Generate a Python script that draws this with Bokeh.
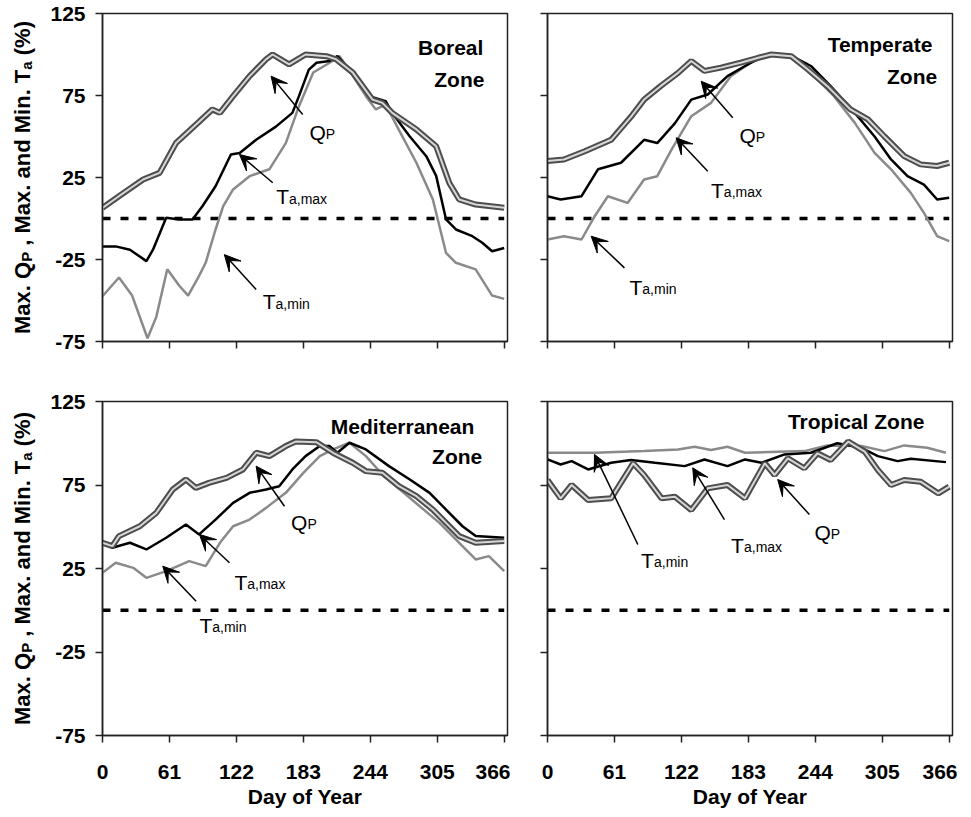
import math
from bokeh.plotting import figure
from bokeh.layouts import column, row
from bokeh.models import Range1d, FixedTicker, Label, Arrow, VeeHead
from bokeh.embed import file_html
from bokeh.resources import INLINE

DAY_TICKS = [0, 61, 122, 183, 244, 305, 366]
Y_TICKS = [-75, -25, 25, 75, 125]
Y_TICK_TEXT = ["-75", "-25", "25", "75", "125"]
X_LABEL = "Day of Year"

# ---------------- Boreal Zone ----------------
bor_qp_day = [0, 15, 37, 52, 67, 88, 100, 107, 119, 134, 149, 155, 170, 185, 204, 213, 228, 246, 255, 264, 286, 304, 316, 325, 340, 366]
bor_qp = [6.5, 13.6, 23.8, 27.8, 46, 59, 66.5, 64.4, 74.6, 86.8, 97, 100, 94, 100, 99, 97, 89, 72.5, 70.5, 64.4, 54.3, 44, 21.7, 11.6, 8.5, 6.5]
bor_tmax_day = [0, 12, 25, 40, 46, 58, 70, 82, 91, 103, 117, 125, 140, 158, 173, 179, 188, 195, 207, 214, 228, 243, 258, 264, 280, 295, 304, 313, 322, 337, 346, 355, 366]
bor_tmax = [-17, -17, -19, -26, -19, 0.4, -0.6, -0.6, 7.5, 19.7, 39, 40, 48, 56, 64.4, 74.6, 90.8, 95, 96, 99, 89, 74.6, 71.5, 64.4, 50, 38, 26, -0.6, -6.7, -10.8, -14.8, -20, -18]
bor_tmin_day = [0, 15, 27, 41, 49, 59, 70, 78, 88, 94, 103, 110, 119, 134, 152, 167, 179, 192, 207, 216, 228, 240, 249, 258, 270, 286, 301, 313, 322, 340, 355, 366]
bor_tmin = [-47.4, -36, -47, -73, -60, -31, -41, -47, -35, -27, -6.7, 7.5, 17.7, 25.8, 30, 46, 68.5, 89, 95, 99, 87, 74.6, 66.5, 69.5, 54, 34, 11.6, -21, -27, -31, -47, -49]

# ---------------- Temperate Zone ----------------
tem_qp_day = [0, 15, 34, 58, 76, 88, 103, 119, 131, 143, 158, 176, 192, 204, 222, 237, 255, 276, 292, 307, 325, 340, 355, 366]
tem_qp = [35, 36, 41, 48, 62, 72.5, 80.7, 88.8, 96, 90, 92, 95, 98, 100, 99, 91, 80.7, 66.5, 60.4, 50, 38, 33, 32, 34]
tem_tmax_day = [0, 12, 31, 46, 67, 88, 100, 116, 131, 146, 164, 180, 198, 222, 240, 258, 280, 298, 313, 328, 343, 355, 366]
tem_tmax = [13.6, 11.6, 13.6, 30, 34, 48, 46, 58, 72.5, 75.6, 86.8, 93, 99.4, 99.4, 93, 80.7, 64.4, 50, 36, 25.8, 20.7, 11.6, 12.6]
tem_tmin_day = [0, 15, 31, 43, 55, 73, 88, 100, 113, 131, 149, 167, 185, 204, 222, 240, 261, 280, 298, 313, 331, 343, 355, 366]
tem_tmin = [-12.8, -10.8, -12.8, 1.4, 13.6, 9.5, 23.8, 25.8, 42, 62.4, 70.5, 86.8, 95, 100, 99, 88.8, 74.6, 58.3, 40, 30, 15.6, 3.4, -10.8, -13.8]

# ---------------- Mediterranean Zone ----------------
med_qp_day = [0, 9, 15, 34, 49, 64, 76, 85, 97, 113, 128, 140, 152, 167, 176, 195, 210, 228, 240, 255, 270, 286, 301, 313, 325, 340, 366]
med_qp = [40.4, 38.4, 44.4, 50.3, 58.3, 72.3, 78.3, 73.3, 76.3, 79.3, 84.3, 94.3, 92.3, 98.3, 101, 100.6, 94.3, 88.3, 83.3, 82.3, 74.3, 68.3, 60.3, 52.3, 44.4, 40.4, 41.4]
med_tmax_day = [0, 9, 25, 40, 58, 76, 88, 103, 119, 134, 149, 161, 173, 185, 198, 207, 214, 225, 240, 261, 280, 298, 313, 328, 340, 366]
med_tmax = [41.4, 37.4, 40.4, 36.4, 43.4, 51.3, 45.4, 54.3, 64.3, 70.3, 72.3, 74.3, 84.3, 92.3, 98.3, 98.3, 94.3, 100.3, 96.3, 86.3, 78.3, 70.3, 60.3, 50.3, 44.4, 43.4]
med_tmin_day = [0, 12, 28, 40, 58, 79, 94, 107, 119, 134, 149, 167, 183, 198, 210, 225, 240, 255, 271, 289, 307, 325, 340, 352, 366]
med_tmin = [22.4, 28.4, 25.4, 19.4, 23.4, 29.4, 26.4, 40.4, 50.3, 54.3, 61.3, 70.3, 82.3, 92.3, 96.3, 100.3, 92.3, 81.3, 72.3, 62.3, 52.3, 40.4, 30.4, 32.4, 23.4]

# ---------------- Tropical Zone ----------------
tro_qp_day = [0, 12, 22, 37, 58, 78, 88, 104, 116, 131, 146, 164, 180, 198, 207, 219, 234, 246, 258, 274, 289, 301, 313, 325, 340, 356, 366]
tro_qp = [78, 67, 75, 66, 67, 88, 81, 67, 68, 60, 73, 75, 67, 88, 81, 91, 85, 94, 90, 101, 95, 84, 75, 78, 77, 70, 74]
tro_tmax_day = [0, 12, 22, 37, 58, 76, 98, 125, 143, 164, 180, 195, 216, 240, 264, 286, 301, 319, 331, 363]
tro_tmax = [90.3, 87.3, 89.3, 84.3, 88.3, 90, 88.3, 86.3, 90.3, 86.3, 90.3, 88.3, 93.3, 94.3, 100, 97.3, 92.3, 89.3, 90.7, 88.7]
tro_tmin_day = [0, 43, 88, 119, 134, 149, 164, 180, 210, 234, 255, 286, 307, 325, 346, 363]
tro_tmin = [94.3, 94.3, 95.3, 96.3, 97.9, 95.9, 97.9, 94.3, 94.9, 95.3, 98.7, 98.3, 95.3, 98.7, 97.3, 94.3]

FONT = "Liberation Sans"


def make_panel(width, height, bl, br, bt, bb, show_x, show_y):
    p = figure(width=width, height=height, output_backend="svg", toolbar_location=None,
               x_range=Range1d(0, 369), y_range=Range1d(-75, 125),
               min_border_left=bl, min_border_right=br, min_border_top=bt, min_border_bottom=bb)
    p.xgrid.visible = False
    p.ygrid.visible = False
    p.outline_line_color = "#222222"
    p.outline_line_width = 1.5
    for ax, ticks, show in ((p.xaxis[0], DAY_TICKS, show_x), (p.yaxis[0], Y_TICKS, show_y)):
        ax.ticker = FixedTicker(ticks=ticks)
        ax.minor_tick_line_color = None
        ax.major_tick_in = 0
        ax.major_tick_out = 7
        ax.major_tick_line_width = 1.5
        ax.major_tick_line_color = "#222222"
        ax.axis_line_width = 1.5
        ax.axis_line_color = "#222222"
        ax.major_label_text_font = FONT
        ax.major_label_text_font_style = "bold"
        ax.major_label_text_font_size = "21px"
        ax.major_label_text_color = "black"
        if not show:
            # ticks only: blank, tiny labels so that they take no room
            ax.major_label_overrides = {t: " " for t in ticks}
            ax.major_label_text_font_size = "1px"
            ax.major_label_standoff = 0
    if show_y:
        p.yaxis[0].major_label_overrides = dict(zip(Y_TICKS, Y_TICK_TEXT))
        p.yaxis[0].major_label_standoff = 10
    if show_x:
        p.xaxis[0].major_label_standoff = 22
        p.xaxis[0].axis_label = X_LABEL
        p.xaxis[0].axis_label_text_font = FONT
        p.xaxis[0].axis_label_text_font_style = "bold"
        p.xaxis[0].axis_label_text_font_size = "21px"
        p.xaxis[0].axis_label_text_color = "black"
        p.xaxis[0].axis_label_standoff = 3
    return p


def draw_series(p, qd, qv, xd, xv, nd, nv):
    p.line([0, 366], [0, 0], line_color="black", line_width=3.5, line_dash="8 10")
    p.line(nd, nv, line_color="#8a8a8a", line_width=2.5)
    p.line(xd, xv, line_color="black", line_width=2.5)
    p.line(qd, qv, line_color="#4d4d4d", line_width=6)
    p.line(qd, qv, line_color="#d6d6d6", line_width=2)


def add_zone_title(p, lines):
    for txt, d, v in lines:
        p.add_layout(Label(x=d, y=v, text=txt, text_align="right", text_baseline="middle",
                           text_font=FONT, text_font_style="bold", text_font_size="21px",
                           text_color="black"))


def add_note(p, main, sub, main_w, lx, ly, ax0, ay0, ax1, ay1):
    p.add_layout(Arrow(x_start=ax0, y_start=ay0, x_end=ax1, y_end=ay1,
                       line_color="black", line_width=1.5,
                       end=VeeHead(size=16, fill_color="black", line_color="black")))
    p.add_layout(Label(x=lx, y=ly, text=main, text_font=FONT, text_font_size="21px",
                       text_baseline="alphabetic", text_align="left", y_offset=-7.5, text_color="black"))
    p.add_layout(Label(x=lx, y=ly, text=sub, text_font=FONT, text_font_size="14px",
                       text_baseline="alphabetic", text_align="left", x_offset=main_w * 21,
                       y_offset=-9.5, text_color="black"))


def make_ylabel_fig(width, height, bt, bb, frame_h):
    """Narrow figure holding the rotated y-axis title (with subscripts).
    Its frame has the same vertical extent as the neighbouring panel's frame."""
    p = figure(width=width, height=height, output_backend="svg", toolbar_location=None,
               x_range=Range1d(0, width), y_range=Range1d(0, frame_h),
               x_axis_location=None, y_axis_location=None,
               min_border_left=0, min_border_right=0, min_border_top=bt, min_border_bottom=bb)
    p.xgrid.visible = False
    p.ygrid.visible = False
    p.outline_line_color = None
    big, small = 22, 15
    base_x = 30.0
    mid_big = base_x - 0.3465 * big
    mid_small = base_x + 1 - 0.3465 * small
    pieces = [("Max. Q", big, 3.279), ("P", small, 0.667), (None, big, 0.278),
              (", Max. and Min. T", big, 8.002), ("a", small, 0.556), (None, big, 0.278),
              ("(%)", big, 1.555)]
    total = sum(s * w for _, s, w in pieces)
    y = (frame_h - total) / 2
    for txt, s, w in pieces:
        L = s * w
        if txt is not None:
            p.add_layout(Label(x=mid_big if s == big else mid_small, y=y + L / 2, text=txt,
                               angle=math.pi / 2, text_font=FONT, text_font_style="bold",
                               text_font_size=f"{s}px", text_align="center",
                               text_baseline="middle", text_color="black"))
        y += L
    return p


TOP_FRAME, BOT_FRAME = 328, 334
YL_W = 45
LB, TB, BB = 102 - YL_W, 13, 80
TOP_H = TB + TOP_FRAME + 30
BOT_H = 30 + BOT_FRAME + BB

tl = make_panel(LB + 405 + 3, TOP_H, LB, 3, TB, 30, False, True)
tr = make_panel(447, TOP_H, 37, 5, TB, 30, False, False)
bl = make_panel(LB + 405 + 3, BOT_H, LB, 3, 30, BB, True, True)
br = make_panel(447, BOT_H, 37, 5, 30, BB, True, False)

yl_top = make_ylabel_fig(YL_W, TOP_H, TB, 30, TOP_FRAME)
yl_bot = make_ylabel_fig(YL_W, BOT_H, 30, BB, BOT_FRAME)

draw_series(tl, bor_qp_day, bor_qp, bor_tmax_day, bor_tmax, bor_tmin_day, bor_tmin)
draw_series(tr, tem_qp_day, tem_qp, tem_tmax_day, tem_tmax, tem_tmin_day, tem_tmin)
draw_series(bl, med_qp_day, med_qp, med_tmax_day, med_tmax, med_tmin_day, med_tmin)
draw_series(br, tro_qp_day, tro_qp, tro_tmax_day, tro_tmax, tro_tmin_day, tro_tmin)

add_zone_title(tl, [("Boreal", 347, 104.1), ("Zone", 348, 84.8)])
add_zone_title(tr, [("Temperate", 350.6, 106.1), ("Zone", 355, 86.8)])
add_zone_title(bl, [("Mediterranean", 338.8, 110.2), ("Zone", 346, 92.3)])
add_zone_title(br, [("Tropical Zone", 343.4, 113.2)])

# Boreal annotations
add_note(tl, "Q", "P", 0.778, 188.5, 57.3, 182.4, 63.4, 153.6, 86.8)
add_note(tl, "T", "a,max", 0.611, 158.2, 17.7, 155.1, 21.8, 124.8, 39.0)
add_note(tl, "T", "a,min", 0.611, 146, -46.3, 140, -43.3, 111, -22)
# Temperate annotations
add_note(tr, "Q", "P", 0.778, 174.9, 55.3, 168.8, 61.4, 140, 83.7)
add_note(tr, "T", "a,max", 0.611, 149, 21.8, 146, 28.8, 117.2, 49.2)
add_note(tr, "T", "a,min", 0.611, 74.7, -37.2, 70.1, -30.1, 39.8, -10.8)
# Mediterranean annotations
add_note(bl, "Q", "P", 0.778, 171.8, 57.3, 165.8, 62.3, 140, 86.3)
add_note(bl, "T", "a,max", 0.611, 120.2, 21.4, 115.7, 28.4, 88.3, 45.4)
add_note(bl, "T", "a,min", 0.611, 88.3, -4.5, 85.3, 5.4, 54.9, 26.4)
# Tropical annotations
add_note(br, "T", "a,min", 0.611, 85.3, 34.4, 82.3, 39.4, 42.8, 93.3)
add_note(br, "T", "a,max", 0.611, 167.3, 43.4, 161.2, 54.3, 132.3, 85.3)
add_note(br, "Q", "P", 0.778, 243.2, 51.3, 238.6, 57.3, 209.7, 78.3)

layout = column(row(yl_top, tl, tr), row(yl_bot, bl, br))
open("out.html", "w").write(file_html(layout, INLINE))
